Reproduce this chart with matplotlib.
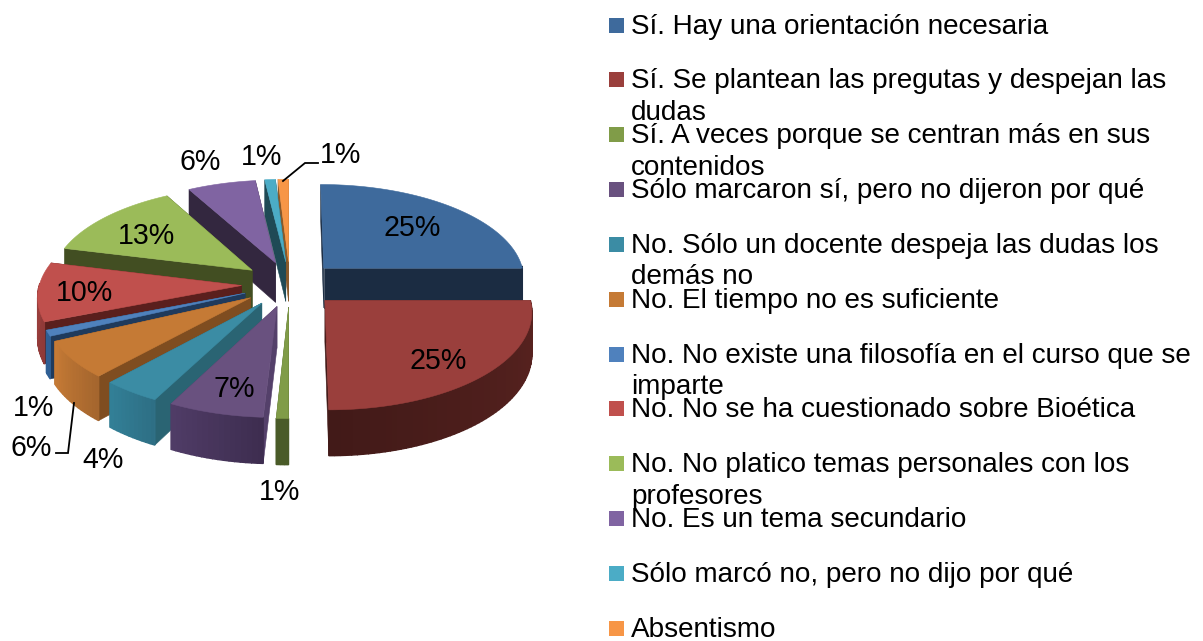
import numpy as np
import matplotlib
matplotlib.use("Agg")
import matplotlib.pyplot as plt
from matplotlib.patches import Polygon, Rectangle
from matplotlib.colors import to_rgb

plt.rcParams['font.family'] = ['Liberation Sans', 'DejaVu Sans']

categorias = [
    "Sí. Hay una orientación necesaria",
    "Sí. Se plantean las pregutas y despejan las\ndudas",
    "Sí. A veces porque se centran más en sus\ncontenidos",
    "Sólo marcaron sí, pero no dijeron por qué",
    "No. Sólo un docente despeja las dudas los\ndemás no",
    "No. El tiempo no es suficiente",
    "No. No existe una filosofía en el curso que se\nimparte",
    "No. No se ha cuestionado sobre Bioética",
    "No. No platico temas personales con los\nprofesores",
    "No. Es un tema secundario",
    "Sólo marcó no, pero no dijo por qué",
    "Absentismo",
]
valores = [25, 25, 0.85, 6.75, 4.1, 6.3, 1, 9.9, 13.1, 6.1, 0.95, 0.95]
color_sup = ['#3E6A9C', '#9A3F3C', '#809C48', '#69517F', '#3B8CA4', '#C57A35',
             '#4F81BD', '#C0504D', '#9BBB59', '#8064A2', '#4BACC6', '#F79646']
color_rad = ['#1B2C42', '#421A18', '#4A5B28', '#54406A', '#2A6473', '#7F4D20',
             '#1F3A5C', '#5A1F1D', '#424E22', '#33273F', '#1F4A55', '#8A5A2A']
color_ext = ['#1B2C42', '#421A18', '#4A5B28', '#3E2D50', '#2E6F85', '#A5662E',
             '#2F5F94', '#8F3A38', '#424E22', '#33273F', '#1F4A55', '#8A5A2A']
color_ext2 = ['#1B2C42', '#5A2320', '#4A5B28', '#4F3C66', '#327F96', '#C57A35',
              '#2F5F94', '#A0403E', '#424E22', '#33273F', '#1F4A55', '#8A5A2A']
pos_etiquetas = [(412, 228), (438, 361), (280, 492), (234, 389), (103, 460), (31, 448),
                 (34, 408), (85, 293), (146, 236), (200, 162), (262, 157), (341, 155)]
lideres = [[(283, 181), (305, 163), (318, 163)],
           [(74, 403), (68, 453), (56, 453)]]

CX, CY, RX, RY, K, D, EXPL = 290.0, 284.0, 202.0, 95.0, 0.10, 40.5, 0.24


def proy(X, Y, z=0.0):
    w = 1 + K * Y
    return (CX + RX * X / w, CY - RY * Y / w + z * D / w)


fig = plt.figure(figsize=(12.03, 6.41), dpi=100)
ax = fig.add_axes([0, 0, 1, 1])
ax.set_xlim(0, 1203)
ax.set_ylim(641, 0)
ax.axis('off')

total = sum(valores)
fr = np.cumsum([0] + valores) / total * 2 * np.pi
rebanadas = []
for i, v in enumerate(valores):
    t1, t2 = fr[i], fr[i + 1]
    tm = (t1 + t2) / 2
    rebanadas.append((np.cos(tm), i, t1, t2, tm))
rebanadas.sort(key=lambda r: -r[0])


def poli(pts, c, z, lw=0.4):
    ax.add_patch(Polygon(pts, closed=True, facecolor=c, edgecolor=c, lw=lw, zorder=z))


z = 1
for _, i, t1, t2, tm in rebanadas:
    ax_, ay_ = EXPL * np.sin(tm), EXPL * np.cos(tm)
    th = np.linspace(t1, t2, max(int((t2 - t1) * 40) + 2, 3))
    xs = ax_ + np.sin(th)
    ys = ay_ + np.cos(th)

    def pared(a, b):
        return [proy(*a), proy(*b), proy(*b, 1), proy(*a, 1)]
    ini = (ax_ + np.sin(t1), ay_ + np.cos(t1))
    fin = (ax_ + np.sin(t2), ay_ + np.cos(t2))
    paredes = [(np.sin(t1), pared((ax_, ay_), ini)), (-np.sin(t2), pared((ax_, ay_), fin))]
    paredes.sort(key=lambda p: -p[0])
    for ny, pts in paredes:
        poli(pts, color_rad[i], z)
        z += 1
    # outer wall
    c1, c2 = np.array(to_rgb(color_ext[i])), np.array(to_rgb(color_ext2[i]))
    for j in range(len(th) - 1):
        if np.cos((th[j] + th[j + 1]) / 2) < 0.02:
            f = j / max(len(th) - 2, 1)
            if th[0] < np.pi:           # right side: darker toward the right
                f = 1 - f
            col = tuple(c1 * (1 - f) + c2 * f)
            poli(pared((xs[j], ys[j]), (xs[j + 1], ys[j + 1])), col, z, lw=1.0)
            z += 1
    top = [proy(ax_, ay_)] + [proy(x, y) for x, y in zip(xs, ys)]
    poli(top, color_sup[i], z)
    z += 1

FS_P, FS_L = 20.6, 20.05
for v, (x, y) in zip(valores, pos_etiquetas):
    ax.text(x, y, f"{round(v)}%", ha='center', va='center', fontsize=FS_P, color='black', zorder=z + 2)
for pts in lideres:
    ax.plot(*zip(*pts), color='black', lw=1.3, zorder=z + 1, solid_joinstyle='miter')

for i, (cat, c) in enumerate(zip(categorias, color_sup)):
    yc = 25 + i * 54.85
    ax.add_patch(Rectangle((609, yc - 7.5), 15, 15, facecolor=c, edgecolor='none', zorder=z))
    lineas = cat.split("\n")
    for k, l in enumerate(lineas):
        ax.text(631, yc + 8.5 + k * 31.5, l, ha='left', va='baseline', fontsize=FS_L,
                color='black', zorder=z + 2 + k)

fig.savefig('out.png', dpi=100)
